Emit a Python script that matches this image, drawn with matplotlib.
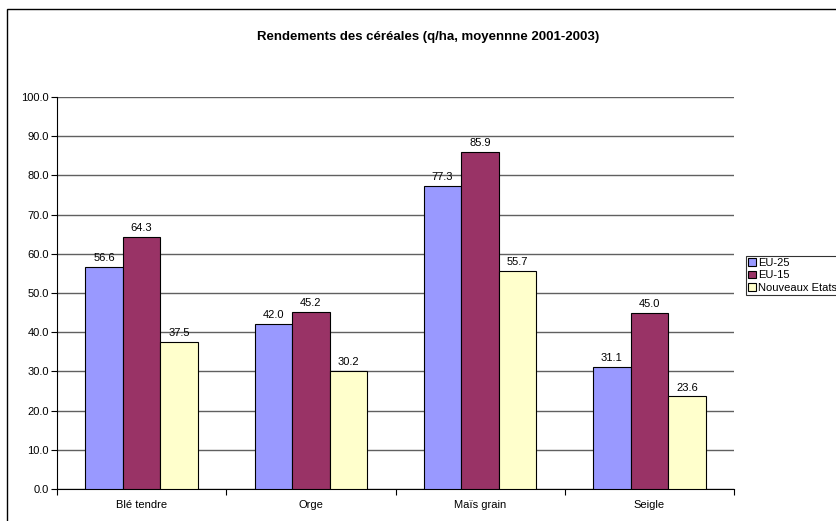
import numpy as np
import matplotlib
matplotlib.use("Agg")
from matplotlib import pyplot as plt
from matplotlib.patches import Rectangle

plt.rcParams['font.family'] = ['Liberation Sans', 'DejaVu Sans']

# données
categories = ["Blé tendre", "Orge", "Maïs grain", "Seigle"]
eu25 = [56.6, 42.0, 77.3, 31.1]
eu15 = [64.3, 45.2, 85.9, 45.0]
nouveaux = [37.5, 30.2, 55.7, 23.6]
series_names = ["EU-25", "EU-15", "Nouveaux Etats"]
colors = ["#9999FF", "#993366", "#FFFFCC"]

W, H = 836, 521
fig = plt.figure(figsize=(W / 100, H / 100), dpi=100)

# cadre du graphique
fig.patches.append(Rectangle((7 / W, -0.1), 1.2, 1 - 9 / H + 0.1, transform=fig.transFigure,
                             fill=False, edgecolor="black", linewidth=1.0))

left, right, top, bottom = 57, 734, 97, 489
ax = fig.add_axes([left / W, 1 - bottom / H, (right - left) / W, (bottom - top) / H])

x = np.arange(len(categories))
w = 0.222
for i, (vals, name, c) in enumerate(zip([eu25, eu15, nouveaux], series_names, colors)):
    pos = x + (i - 1) * w
    ax.bar(pos, vals, width=w, color=c, edgecolor="black", linewidth=0.8,
           label=name, zorder=3)
    for p, v in zip(pos, vals):
        ax.text(p, v + 1.0, f"{v:.1f}", ha="center", va="bottom", fontsize=8)

ax.set_xlim(-0.5, len(categories) - 0.5)
ax.set_ylim(0, 100)
ax.set_yticks(np.arange(0, 101, 10))
ax.set_yticklabels([f"{v:.1f}" for v in np.arange(0, 101, 10)], fontsize=8)
ax.set_xticks(x)
ax.set_xticklabels(categories, fontsize=8)
ax.set_xticks(np.arange(-0.5, len(categories), 1), minor=True)
ax.tick_params(axis="x", which="major", length=0, pad=8)
ax.tick_params(axis="x", which="minor", length=4, width=0.8, direction="out")
ax.tick_params(axis="y", length=4, width=0.8, direction="out", pad=2)
ax.yaxis.grid(True, color="#606060", linewidth=1.0, zorder=0)
for s in ["top", "right"]:
    ax.spines[s].set_visible(False)
ax.spines["left"].set_linewidth(0.8)
ax.spines["bottom"].set_linewidth(0.8)

fig.text(428 / W, 1 - 37 / H, "Rendements des céréales (q/ha, moyennne 2001-2003)",
         ha="center", va="center", fontsize=9.5, fontweight="bold")

# légende (coupée au bord droit comme dans l'original)
leg = fig.legend(loc="upper left", bbox_to_anchor=(746 / W, 1 - 256 / H), fontsize=8,
                 frameon=True, fancybox=False, edgecolor="black", handlelength=0.7,
                 handleheight=0.7, handletextpad=0.2, borderpad=0.2, labelspacing=0.2,
                 borderaxespad=0)
leg.get_frame().set_linewidth(0.8)

fig.savefig("out.png", dpi=100)
